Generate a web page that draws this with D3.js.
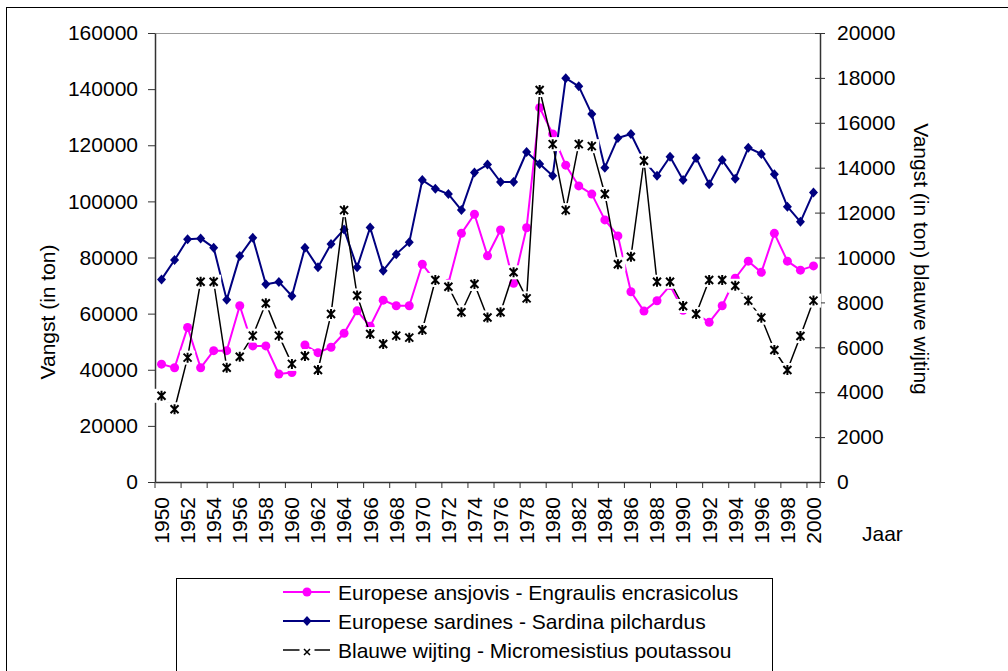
<!DOCTYPE html>
<html>
<head>
<meta charset="utf-8">
<script src="https://cdn.jsdelivr.net/npm/d3@7"></script>
<style>
body{margin:0;background:#fff;}
text{font-family:Arial,"Liberation Sans",sans-serif;font-size:21px;fill:#000;}
</style>
</head>
<body>
<svg id="chart" width="1008" height="671"></svg>
<script>
var years = [1950,1951,1952,1953,1954,1955,1956,1957,1958,1959,
	1960,1961,1962,1963,1964,1965,1966,1967,1968,1969,
	1970,1971,1972,1973,1974,1975,1976,1977,1978,1979,
	1980,1981,1982,1983,1984,1985,1986,1987,1988,1989,
	1990,1991,1992,1993,1994,1995,1996,1997,1998,1999,2000];

// Europese ansjovis (linker as)
var ansjovis = [42000,40700,55100,40700,46800,46800,62800,48500,48500,38500,
	39000,48800,46100,48000,53000,61000,55500,64800,62800,62800,
	77600,71600,70800,88600,95400,80600,89800,70800,90600,133400,
	124000,112900,105500,102600,93400,87700,67800,60900,64600,70000,
	61200,60000,56900,62800,72600,78700,74700,88600,78700,75500,77000];

// Europese sardines (linker as)
var sardines = [72200,79100,86500,86800,83500,64900,80500,87000,70500,71300,
	66300,83500,76500,84800,90000,76500,90700,75300,81200,85400,
	107600,104500,102600,96900,110300,113100,106900,106900,117600,113300,
	109100,143900,141000,131100,112000,122600,124000,114500,109100,115900,
	107600,115500,106100,114700,108100,119100,116900,109700,98100,92700,103200];

// Blauwe wijting (rechter as)
var wijting = [3840,3240,5540,8920,8920,5090,5580,6520,7960,6520,
	5260,5610,4990,7480,12110,8310,6590,6150,6520,6430,
	6770,9000,8700,7560,8820,7330,7560,9340,8180,17460,
	15050,12110,15050,14960,12830,9700,10030,14310,8920,8920,
	7840,7480,9000,9000,8740,8080,7320,5880,4990,6500,8080];

var leftTicks = [0,20000,40000,60000,80000,100000,120000,140000,160000];
var rightTicks = [0,2000,4000,6000,8000,10000,12000,14000,16000,18000,20000];
var legendLabels = ['Europese ansjovis - Engraulis encrasicolus',
	'Europese sardines - Sardina pilchardus',
	'Blauwe wijting - Micromesistius poutassou'];

var plotLeft = 155, plotRight = 820, plotTop = 33, plotBottom = 482;
var axisColor = '#333';

var svg = d3.select('#chart');

// kader rond de grafiek
svg.append('rect')
	.attr('x', 6.5).attr('y', 7.5)
	.attr('width', 1020).attr('height', 700)
	.attr('fill', 'none').attr('stroke', '#000');

var xScale = d3.scaleBand().domain(years).range([plotLeft, plotRight]);
function xMid(year){ return xScale(year) + xScale.bandwidth()/2; }
var yLeft = d3.scaleLinear().domain([0,160000]).range([plotBottom, plotTop]);
var yRight = d3.scaleLinear().domain([0,20000]).range([plotBottom, plotTop]);

svg.append('line')
	.attr('x1', plotLeft).attr('x2', plotRight)
	.attr('y1', plotTop+0.5).attr('y2', plotTop+0.5)
	.attr('stroke', '#999');

// linker as
var leftAxis = svg.append('g')
	.attr('transform', 'translate('+plotLeft+',0)')
	.call(d3.axisLeft(yLeft).tickValues(leftTicks).tickSize(7).tickSizeOuter(0)
		.tickPadding(10).tickFormat(d3.format('d')));

// rechter as
var rightAxis = svg.append('g')
	.attr('transform', 'translate('+plotRight+',0)')
	.call(d3.axisRight(yRight).tickValues(rightTicks).tickSize(5).tickSizeOuter(0)
		.tickPadding(12).tickFormat(d3.format('d')));
rightAxis.selectAll('.tick line').attr('x1', -5);

// x as
var bottomAxis = svg.append('g')
	.attr('transform', 'translate(0,'+plotBottom+')')
	.call(d3.axisBottom(xScale).tickSize(0).tickSizeOuter(0)
		.tickFormat(function(d, i){ return i%2==0 ? d : ''; }));
bottomAxis.selectAll('.tick text')
	.attr('transform', 'rotate(-90)')
	.attr('x', -15).attr('y', 0)
	.attr('dy', '0.35em')
	.attr('text-anchor', 'end');

var boundaryIdx = d3.range(0, years.length+1, 2).concat([years.length]);
bottomAxis.selectAll('line.bound')
	.data(boundaryIdx).enter()
	.append('line')
	.attr('class', 'bound')
	.attr('x1', function(i){ return i < years.length ? xScale(years[i]) : plotRight; })
	.attr('x2', function(i){ return i < years.length ? xScale(years[i]) : plotRight; })
	.attr('y1', 0).attr('y2', 6)
	.attr('stroke', axisColor);

[leftAxis, rightAxis, bottomAxis].forEach(function(a){
	a.selectAll('path.domain').attr('stroke', axisColor).attr('stroke-width', 1.5);
	a.selectAll('.tick line').attr('stroke', axisColor);
	a.selectAll('text').style('font-size', '21px').attr('fill', '#000');
	a.attr('font-family', null).attr('font-size', null);
});

// as titels
svg.append('text')
	.attr('transform', 'translate(47,312) rotate(-90)')
	.attr('text-anchor', 'middle')
	.attr('dominant-baseline', 'central')
	.text('Vangst (in ton)');
svg.append('text')
	.attr('transform', 'translate(921,259) rotate(90)')
	.attr('text-anchor', 'middle')
	.attr('dominant-baseline', 'central')
	.text('Vangst (in ton) blauwe wijting');
svg.append('text')
	.attr('x', 862).attr('y', 533)
	.attr('dominant-baseline', 'central')
	.text('Jaar');

var diamondPath = 'M0,-5L4.5,0L0,5L-4.5,0Z';
var starPath = 'M-4,-4L4,4M-4,4L4,-4M0,-5L0,5';

function drawLine(values, yScale, color, width)
{
	var line = d3.line()
		.x(function(d, i){ return xMid(years[i]); })
		.y(function(d){ return yScale(d); });
	svg.append('path')
		.datum(values)
		.attr('d', line)
		.attr('fill', 'none')
		.attr('stroke', color)
		.attr('stroke-width', width)
		.attr('stroke-linejoin', 'round');
}

// ansjovis
drawLine(ansjovis, yLeft, '#ff00ff', 2);
svg.append('g').selectAll('circle')
	.data(ansjovis).enter()
	.append('circle')
	.attr('cx', function(d, i){ return xMid(years[i]); })
	.attr('cy', function(d){ return yLeft(d); })
	.attr('r', 4.5)
	.attr('fill', '#ff00ff');

// sardines
drawLine(sardines, yLeft, '#000080', 2);
svg.append('g').selectAll('path')
	.data(sardines).enter()
	.append('path')
	.attr('d', diamondPath)
	.attr('transform', function(d, i){ return 'translate('+xMid(years[i])+','+yLeft(d)+')'; })
	.attr('fill', '#000080');

// blauwe wijting
drawLine(wijting, yRight, '#000', 1.5);
var stars = svg.append('g').selectAll('g')
	.data(wijting).enter()
	.append('g')
	.attr('transform', function(d, i){ return 'translate('+xMid(years[i])+','+yRight(d)+')'; });
stars.append('rect')
	.attr('x', -7.5).attr('y', -7)
	.attr('width', 15).attr('height', 14)
	.attr('fill', '#fff');
stars.append('path')
	.attr('d', starPath)
	.attr('stroke', '#000')
	.attr('stroke-width', 2);

// legenda
var legend = svg.append('g');
legend.append('rect')
	.attr('x', 176.5).attr('y', 578.5)
	.attr('width', 596).attr('height', 120)
	.attr('fill', '#fff').attr('stroke', '#000');
var legendRows = legend.selectAll('g.row')
	.data(legendLabels).enter()
	.append('g')
	.attr('class', 'row')
	.attr('transform', function(d, i){ return 'translate(0,'+(592+i*29)+')'; });
legendRows.append('line')
	.attr('x1', 283).attr('x2', 330)
	.attr('y1', 0).attr('y2', 0)
	.attr('stroke', function(d, i){ return ['#ff00ff','#000080','#000'][i]; })
	.attr('stroke-width', function(d, i){ return i==2 ? 1.5 : 2; });
legendRows.append('text')
	.attr('x', 338).attr('y', 0)
	.attr('dominant-baseline', 'central')
	.text(function(d){ return d; });
legendRows.each(function(d, i){
	var row = d3.select(this);
	if(i==0)
		row.append('circle').attr('cx', 307).attr('cy', 0).attr('r', 4.5).attr('fill', '#ff00ff');
	else if(i==1)
		row.append('path').attr('d', diamondPath).attr('transform', 'translate(307,0)').attr('fill', '#000080');
	else
	{
		row.append('rect').attr('x', 299.5).attr('y', -7).attr('width', 15).attr('height', 14).attr('fill', '#fff');
		row.append('path').attr('d', 'M-3,-3L3,3M-3,3L3,-3').attr('transform', 'translate(307,2)')
			.attr('stroke', '#000').attr('stroke-width', 1.5);
	}
});
</script>
</body>
</html>
